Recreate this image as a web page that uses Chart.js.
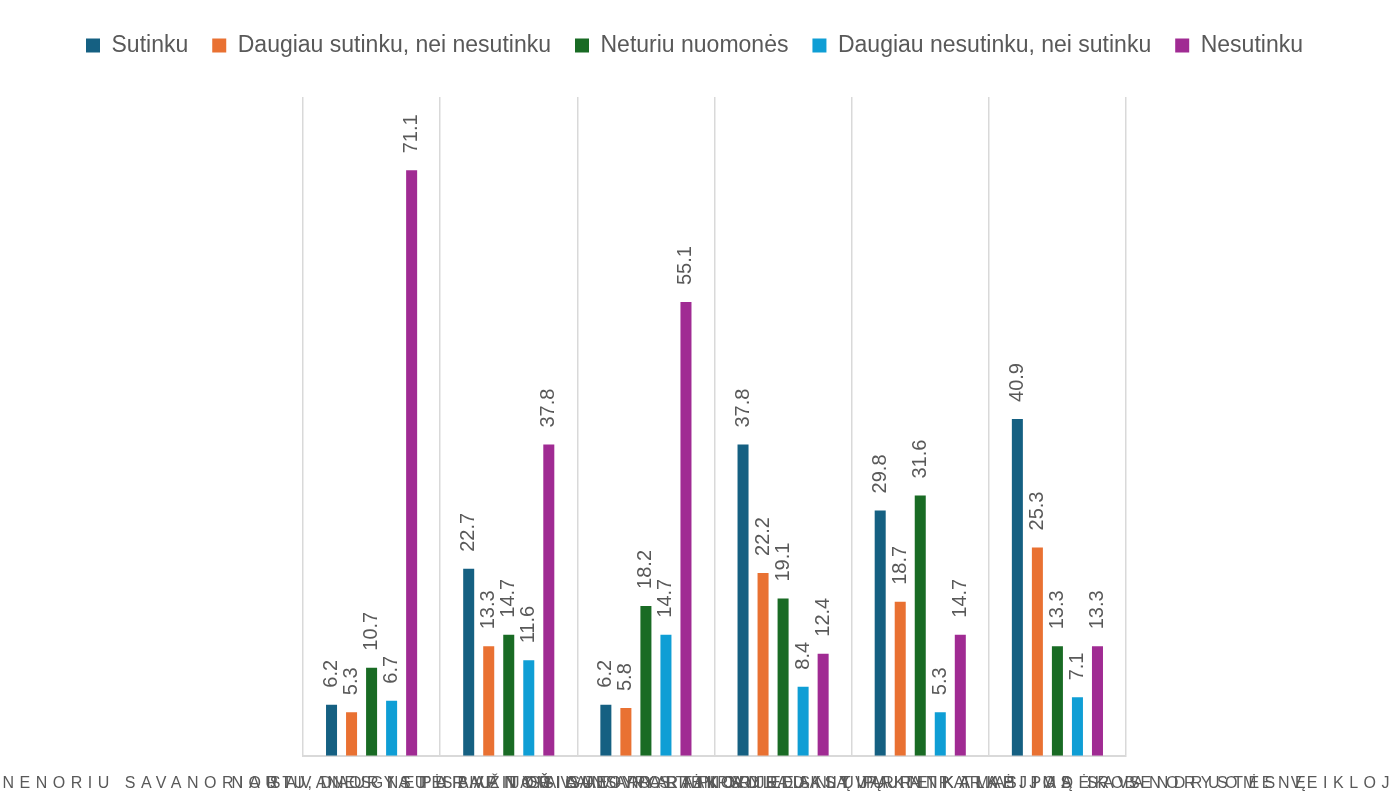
<!DOCTYPE html>
<html>
<head>
<meta charset="utf-8">
<script src="https://cdn.jsdelivr.net/npm/chart.js@4/dist/chart.umd.min.js"></script>
<style>
  html, body { margin: 0; padding: 0; background: #fff; }
  #wrap { width: 1389px; height: 811px; }
</style>
</head>
<body>
<div id="wrap"><canvas id="chartApklausa"></canvas></div>
<script>
// -- Duomenys --
const kategorijos = [
  'NENORIU SAVANORIAUTI, NES NETURIU TAM LAISVO LAIKO',
  'NORIU DAUGIAU SAVANORIAUTI PARAPIJOJE',
  'SAVANORYSTĖ BAŽNYČIOJE YRA TIK VYRESNIŲJŲ REIKALAS',
  'PARAPIJOS SAVANORIAI SULAUKIA PAKANKAMAI PADĖKOS',
  'SAVANORYSTĖ PADEDA STIPRINTI TIKĖJIMĄ IR BENDRUOMENĘ',
  'NORIU DALYVAUTI PARAPIJOS SAVANORYSTĖS VEIKLOJE'
];
const serijuPavadinimai = ['Sutinku', 'Daugiau sutinku, nei nesutinku', 'Neturiu nuomonės', 'Daugiau nesutinku, nei sutinku', 'Nesutinku'];
const sutinku = [6.2, 22.7, 6.2, 37.8, 29.8, 40.9];
const daugiauSutinku = [5.3, 13.3, 5.8, 22.2, 18.7, 25.3];
const neturiuNuomones = [10.7, 14.7, 18.2, 19.1, 31.6, 13.3];
const daugiauNesutinku = [6.7, 11.6, 14.7, 8.4, 5.3, 7.1];
const nesutinku = [71.1, 37.8, 55.1, 12.4, 14.7, 13.3];
const spalvos = ['#156082', '#e97132', '#196b24', '#0f9ed5', '#a02b93'];

const serijos = [sutinku, daugiauSutinku, neturiuNuomones, daugiauNesutinku, nesutinku];

// kategoriju asis su tarpais tarp raidziu
class SpacedCategoryScale extends Chart.CategoryScale {
  getPadding() { return { left: 0, top: 0, right: 0, bottom: 0 }; }
  drawLabels(area) {
    this.ctx.save();
    this.ctx.letterSpacing = '5.5px';
    super.drawLabels(area);
    this.ctx.restore();
  }
}
SpacedCategoryScale.id = 'spacedCategory';
SpacedCategoryScale.defaults = Chart.CategoryScale.defaults;
Chart.register(SpacedCategoryScale);

const reiksmiuEtiketes = {
  id: 'reiksmiuEtiketes',
  afterDatasetsDraw(chart) {
    const ctx = chart.ctx;
    ctx.save();
    ctx.fillStyle = '#595959';
    ctx.font = '20px "Liberation Sans", Arial, sans-serif';
    ctx.textAlign = 'left';
    ctx.textBaseline = 'middle';
    chart.data.datasets.forEach((ds, i) => {
      chart.getDatasetMeta(i).data.forEach((bar, j) => {
        ctx.save();
        ctx.translate(bar.x, bar.y - 17);
        ctx.rotate(-Math.PI / 2);
        ctx.fillText(ds.data[j].toFixed(1), 0, 0);
        ctx.restore();
      });
    });
    ctx.restore();
  }
};

const legendosTarpas = {
  id: 'legendosTarpas',
  beforeInit(chart) {
    const origFit = chart.legend.fit;
    chart.legend.fit = function () {
      origFit.call(this);
      this.height += 30;
    };
  }
};

const ctx = document.getElementById('chartApklausa').getContext('2d');
new Chart(ctx, {
  type: 'bar',
  data: {
    labels: kategorijos,
    datasets: serijos.map((d, i) => ({
      label: serijuPavadinimai[i],
      data: d,
      backgroundColor: spalvos[i],
      categoryPercentage: 0.73,
      barPercentage: 0.55
    }))
  },
  options: {
    responsive: true,
    maintainAspectRatio: false,
    animation: false,
    layout: { padding: { top: 10, bottom: 0, left: 0, right: 0 } },
    plugins: {
      tooltip: { enabled: false },
      legend: {
        position: 'top',
        labels: {
          color: '#595959',
          font: { size: 23, family: '"Liberation Sans", Arial, sans-serif' },
          boxWidth: 14,
          boxHeight: 14,
          padding: 24
        }
      }
    },
    scales: {
      x: {
        type: 'spacedCategory',
        grid: { color: '#d9d9d9', lineWidth: 1.5, drawTicks: false },
        border: { color: '#d9d9d9', width: 2 },
        ticks: {
          color: '#595959',
          font: { size: 16, family: '"Liberation Sans", Arial, sans-serif' },
          autoSkip: false,
          maxRotation: 0,
          minRotation: 0,
          padding: 18
        }
      },
      y: {
        position: 'left',
        min: 0,
        max: 80,
        ticks: { display: false },
        grid: { display: false },
        border: { display: false },
        afterFit(scale) { scale.width = 303; }
      },
      yDesine: {
        position: 'right',
        min: 0,
        max: 80,
        ticks: { display: false },
        grid: { display: false },
        border: { display: false },
        afterFit(scale) { scale.width = 263; }
      }
    }
  },
  plugins: [reiksmiuEtiketes, legendosTarpas]
});
</script>
</body>
</html>
